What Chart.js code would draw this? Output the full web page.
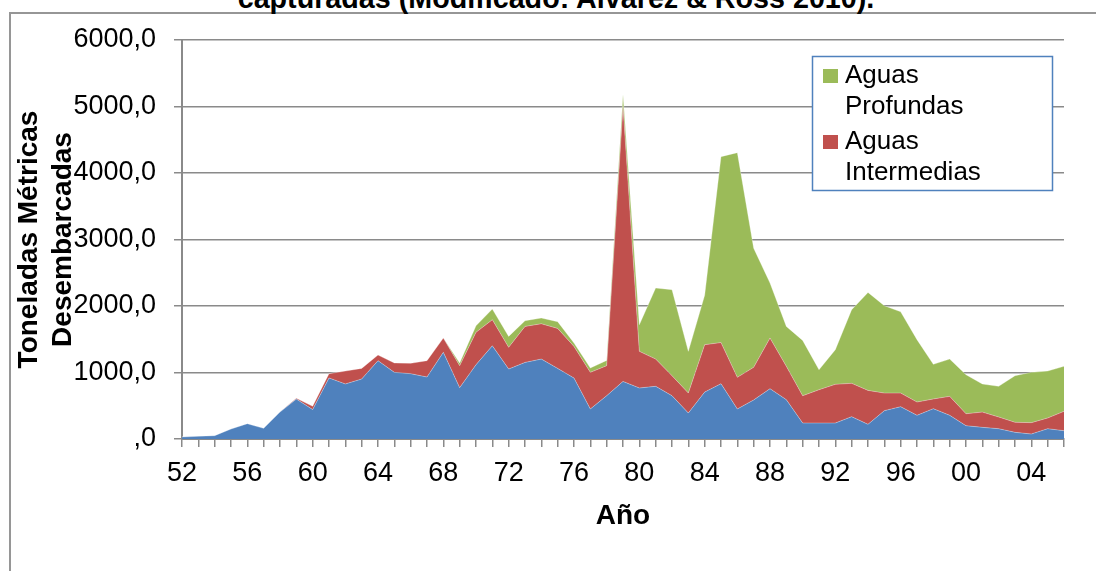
<!DOCTYPE html>
<html>
<head>
<meta charset="utf-8">
<script src="https://cdn.jsdelivr.net/npm/chart.js@4.4.1/dist/chart.umd.min.js"></script>
<style>
  html, body { margin: 0; padding: 0; background: #fff; overflow: hidden; }
  #wrap { position: relative; width: 1096px; height: 571px; overflow: hidden; }
  #frame { position: absolute; left: 9px; top: 12px; width: 1200px; height: 700px;
           border: 2px solid #969696; box-sizing: border-box; }
  #caption { position: absolute; left: 0; top: -16px; width: 1112px; text-align: center;
             font: bold 28.7px "Liberation Sans", Arial, sans-serif; line-height: 28px;
             color: #000; white-space: nowrap; }
  #chart { position: absolute; left: 0; top: 0; }
</style>
</head>
<body>
<div id="wrap">
  <div id="frame"></div>
  <div id="caption">capturadas (Modificado: Alvarez &amp; Ross 2010).</div>
  <canvas id="chart" width="1096" height="571"></canvas>
</div>
<script>
// Años de desembarque (1952-2006), rotulados con dos dígitos
const years = ['52','53','54','55','56','57','58','59','60','61','62','63','64','65','66','67','68','69',
  '70','71','72','73','74','75','76','77','78','79','80','81','82','83','84','85','86','87','88','89',
  '90','91','92','93','94','95','96','97','98','99','00','01','02','03','04','05','06'];

// Toneladas métricas desembarcadas por estrato de profundidad
const someras = [30,40,50,150,230,160,405,600,442,918,828,902,1178,1002,982,932,1303,772,1117,1402,
  1052,1152,1202,1062,916,451,651,866,767,792,651,390,705,832,451,587,757,592,240,240,
  240,336,220,426,486,356,456,356,200,175,155,100,75,155,125];
const intermedias = [0,0,0,0,0,0,0,12,50,64,194,160,85,141,156,246,215,331,487,392,
  326,541,531,601,476,551,451,4134,551,410,301,301,713,618,476,491,761,501,411,501,
  582,501,511,265,205,200,146,285,180,230,176,151,171,161,291];
const profundas = [0,0,0,0,0,0,0,0,0,0,0,0,0,0,0,0,0,40,99,160,
  165,86,86,101,51,65,80,180,400,1068,1293,627,742,2796,3379,1792,827,600,832,301,
  521,1107,1473,1313,1222,937,521,561,587,422,461,701,756,706,677];

const yTickLabels = [',0','1000,0','2000,0','3000,0','4000,0','5000,0','6000,0'];
const labelEvery = 4;

const FONT = '"Liberation Sans", Arial, sans-serif';
const GRID = '#8a8a8a';

// Leyenda en recuadro dentro del área de trazado
const boxLegend = {
  id: 'boxLegend',
  afterDraw(chart) {
    const ctx = chart.ctx;
    const x0 = 812, y0 = 56, w = 240, h = 134;
    ctx.save();
    ctx.fillStyle = '#fff';
    ctx.fillRect(x0, y0, w, h);
    ctx.strokeStyle = '#4F81BD';
    ctx.lineWidth = 1.5;
    ctx.strokeRect(x0 + 0.5, y0 + 0.5, w, h);
    ctx.font = '26px ' + FONT;
    ctx.fillStyle = '#000';
    ctx.textBaseline = 'alphabetic';
    const items = chart.data.datasets.filter(d => d.inLegend).reverse();
    let base = 83;
    items.forEach(d => {
      ctx.fillStyle = d.backgroundColor;
      ctx.fillRect(823, base - 14, 15, 14);
      ctx.fillStyle = '#000';
      const words = d.label.split(' ');
      words.forEach((wd, i) => ctx.fillText(wd, 845, base + i * 31));
      base += 31 * (words.length - 1) + 35;
    });
    ctx.restore();
  }
};

new Chart(document.getElementById('chart'), {
  type: 'line',
  data: {
    labels: years,
    datasets: [
      { label: 'Aguas Someras', data: someras, backgroundColor: '#4F81BD', fill: 'origin', inLegend: false },
      { label: 'Aguas Intermedias', data: intermedias, backgroundColor: '#C0504D', fill: '-1', inLegend: true },
      { label: 'Aguas Profundas', data: profundas, backgroundColor: '#9BBB59', fill: '-1', inLegend: true }
    ]
  },
  options: {
    responsive: false,
    animation: false,
    devicePixelRatio: 1,
    layout: { padding: { left: 12, right: 32, top: 40, bottom: 0 } },
    elements: {
      point: { radius: 0, hoverRadius: 0 },
      line: { tension: 0, borderWidth: 1, borderColor: 'rgba(255,255,255,0.3)' }
    },
    plugins: {
      legend: { display: false },
      tooltip: { enabled: false },
      title: { display: false }
    },
    scales: {
      x: {
        type: 'category',
        offset: false,
        grid: { drawOnChartArea: false, drawTicks: true, tickLength: 8, color: GRID, lineWidth: 1.5 },
        border: { color: GRID, width: 2 },
        ticks: {
          autoSkip: false, maxRotation: 0, minRotation: 0, padding: 10,
          color: '#000', font: { family: FONT, size: 27 },
          callback: (v, i) => (i % labelEvery === 0 ? years[i] : '')
        },
        title: {
          display: true, text: 'Año', color: '#000',
          font: { family: FONT, size: 28, weight: 'bold', lineHeight: 1.2 },
          padding: { top: 0, bottom: 38 }
        },
        afterFit: s => { s.height = 132; }
      },
      y: {
        stacked: true,
        min: 0, max: 6000,
        grid: { color: GRID, lineWidth: 1.5, tickLength: 8 },
        border: { color: GRID, width: 2 },
        ticks: {
          stepSize: 1000, padding: 18, color: '#000',
          font: { family: FONT, size: 27 },
          callback: v => yTickLabels[Math.round(v / 1000)]
        },
        title: {
          display: true, text: ['Toneladas Métricas', 'Desembarcadas'], color: '#000',
          font: { family: FONT, size: 28, weight: 'bold', lineHeight: 1.214 },
          padding: 0
        },
        afterFit: s => { s.width = 170; }
      }
    }
  },
  plugins: [boxLegend]
});
</script>
</body>
</html>
